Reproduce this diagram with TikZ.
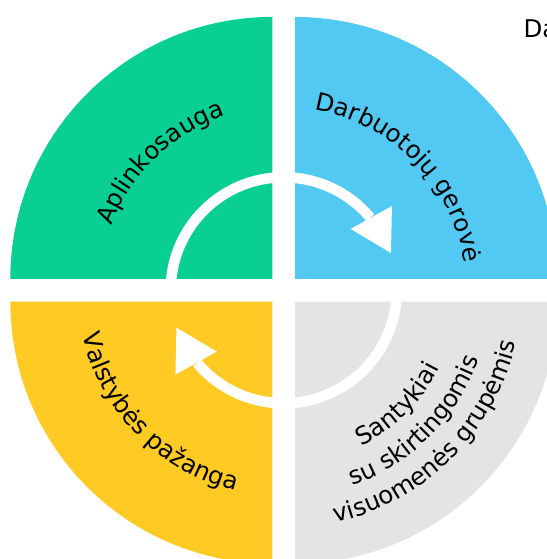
\documentclass[tikz,border=0pt]{standalone}
\usepackage{fontspec}
\setmainfont{DejaVu Sans}
\usetikzlibrary{decorations.text}
\definecolor{Wheel_Green}{HTML}{0ACF92}
\definecolor{Wheel_Blue}{HTML}{52C9F3}
\definecolor{Wheel_Yellow}{HTML}{FFCA24}
\definecolor{Wheel_Grey}{HTML}{E4E4E4}
\newcommand{\wheelfont}{\fontsize{24.5}{29}\selectfont}

\begin{document}
\begin{tikzpicture}[x=1bp, y=1bp,
  quad/.style={fill=#1},
  ring/.style={white, line width=10.5bp},
  tip/.style={fill=white},
  arclabel/.style={decorate, decoration={text along path,
    text align=center, text={|\wheelfont|#1}}}
]
  \useasboundingbox (-283.7,-268.7) rectangle (263.3,290.3);

  % Quadrants
  \foreach \col/\sx/\sy/\a in {Wheel_Green/-1/1/90, Wheel_Blue/1/1/0,
                               Wheel_Grey/1/-1/270, Wheel_Yellow/-1/-1/180} {
    \fill[quad=\col] (\sx*11.35,\sy*11.35) -- ++(\a:262)
      arc[start angle=\a, end angle=\a+90, radius=262] -- cycle;
  }

  % Inner cycle arrows
  \draw[ring] (180:113) arc[start angle=180, end angle=40, radius=113];
  \fill[tip] (37.9:137.2) -- (19.2:113.6) -- (42.5:90.8) -- cycle;
  \draw[ring] (0:113) arc[start angle=0, end angle=-140, radius=113];
  \fill[tip] (217.9:137.2) -- (199.2:113.6) -- (222.5:90.8) -- cycle;

  % Curved labels
  \path[arclabel=Aplinkosauga] (174:184) arc[start angle=174, end angle=94, radius=184];
  \path[arclabel=Darbuotojų gerovė] (89:183) arc[start angle=89, end angle=0, radius=183];
  \path[arclabel=Valstybės pažanga] (180:206) arc[start angle=180, end angle=269, radius=206];
  \path[arclabel=Santykiai] (-89:174) arc[start angle=-89, end angle=-1, radius=174];
  \path[arclabel=su skirtingomis] (-89:207) arc[start angle=-89, end angle=-1, radius=207];
  \path[arclabel=visuomenės grupėmis] (-89:238) arc[start angle=-89, end angle=-1, radius=238];

  \node[anchor=base west, font=\wheelfont] (da) at (236.3,252.3) {Da};
\end{tikzpicture}
\end{document}
